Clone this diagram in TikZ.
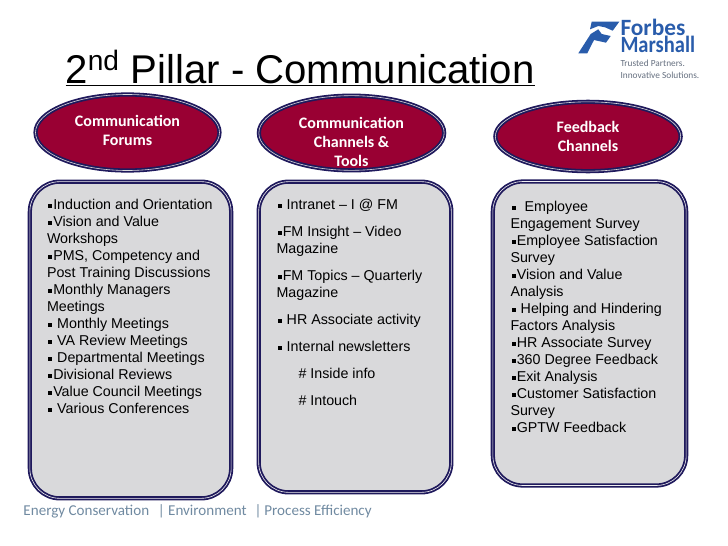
\documentclass[tikz,border=0pt]{standalone}
\usepackage{fontspec}
\usepackage{graphicx}
\setmainfont{Liberation Sans}
\newfontfamily\calibri{Carlito}
\usetikzlibrary{shapes.geometric}
\definecolor{pillarred}{rgb}{0.60,0.00,0.20}
\definecolor{pillarnavy}{rgb}{0.12,0.10,0.36}
\definecolor{pillargrey}{rgb}{0.85,0.85,0.86}
\definecolor{logoblue}{rgb}{0.16,0.36,0.67}
\definecolor{logogrey}{rgb}{0.40,0.44,0.50}
\definecolor{footgrey}{rgb}{0.44,0.54,0.63}
\newcommand{\bul}{\hspace{0.8pt}\rule[0.15em]{3.1pt}{3.1pt}\hspace{0.8pt}}
\tikzset{every picture/.style={line width=0.75pt}}
\tikzset{
  pillaroval/.style={ellipse,draw=pillarnavy,double=pillargrey,double distance=0.45pt,line width=1.35pt,fill=pillarred,inner sep=0pt},
  pillarbox/.style={rectangle,rounded corners=22.5pt,draw=pillarnavy,double=pillargrey!40,double distance=0.45pt,line width=1.35pt,fill=pillargrey,inner sep=0pt},
  ovaltext/.style={align=center,text=white,inner sep=0.75pt,font=\calibri\bfseries\fontsize{12}{14.3}\selectfont},
  bodytext/.style={anchor=north west,align=left,inner sep=0.75pt,font=\fontsize{10.7}{12.75}\selectfont}
}

\begin{document}
\begin{tikzpicture}[x=0.75pt,y=0.75pt,yscale=-1,xscale=1]
\useasboundingbox (0,0) rectangle (728,546);

\draw (65,83) node (title) [anchor=base west,inner sep=0pt,font=\fontsize{30.1}{34}\selectfont] {\underline{2\textsuperscript{nd} Pillar - Communication}};

% logo
\fill [logoblue] (591.7,21.7) -- (619.3,21.7) -- (612.7,30.7) -- (605,27.3) -- (598.3,26) -- (590,29.3) -- cycle ;
\fill [logoblue] (578.3,53.3) -- (587.3,53.3) -- (594,40) -- (606,42.7) -- (610.7,36) -- (601.7,34) -- (598.3,29.3) -- (590.7,34) -- cycle ;
\draw (620,35) node (forbes) [anchor=base west,inner sep=0pt,text=logoblue,font=\calibri\bfseries\fontsize{17.5}{18}\selectfont] {Forbes};
\draw (620,52.7) node (marshall) [anchor=base west,inner sep=0pt,text=logoblue,font=\calibri\bfseries\fontsize{17.5}{18}\selectfont] {\scalebox{0.88}[1]{Marshall}};
\draw (620,66.7) node (trusted) [anchor=base west,inner sep=0pt,text=logogrey,font=\calibri\fontsize{7}{8}\selectfont] {Trusted Partners.};
\draw (620,78) node (innovative) [anchor=base west,inner sep=0pt,text=logogrey,font=\calibri\fontsize{7}{8}\selectfont] {Innovative Solutions.};

% ovals
\draw (127.5,132.5) node (forums) [pillaroval,minimum width=138pt,minimum height=57pt] {};
\draw (351.5,133) node (channels) [pillaroval,minimum width=139pt,minimum height=56pt] {};
\draw (588,136.5) node (feedback) [pillaroval,minimum width=139pt,minimum height=52pt] {};
\draw (127.5,130.5) node (forumstext) [ovaltext] {Communication\\Forums};
\draw (351.5,141.5) node (channelstext) [ovaltext] {Communication\\Channels \&\\Tools};
\draw (588,136.5) node (feedbacktext) [ovaltext] {Feedback\\Channels};

% boxes
\draw (130.5,340) node (forumsbox) [pillarbox,minimum width=151pt,minimum height=237.5pt] {};
\draw (355,337) node (channelsbox) [pillarbox,minimum width=144.5pt,minimum height=233pt] {};
\draw (589.5,333.5) node (feedbackbox) [pillarbox,minimum width=145pt,minimum height=228pt] {};

\draw (45.5,198) node (forumslist) [bodytext] {\bul Induction and Orientation\\\bul Vision and Value\\Workshops\\\bul PMS, Competency and\\Post Training Discussions\\\bul Monthly Managers\\Meetings\\\bul\ Monthly Meetings\\\bul\ VA Review Meetings\\\bul\ Departmental Meetings\\\bul Divisional Reviews\\\bul Value Council Meetings\\\bul\ Various Conferences};
\draw (275,198) node (channelslist) [bodytext] {\bul\ Intranet -- I @ FM\\[7.5pt]\bul FM Insight -- Video\\Magazine\\[7.5pt]\bul FM Topics -- Quarterly\\Magazine\\[7.5pt]\bul\ HR Associate activity\\[7.5pt]\bul\ Internal newsletters\\[7.5pt]\hspace{16.5pt}\# Inside info\\[7.5pt]\hspace{16.5pt}\# Intouch};
\draw (509,200) node (feedbacklist) [bodytext] {\bul\ \ Employee\\Engagement Survey\\\bul Employee Satisfaction\\Survey\\\bul Vision and Value\\Analysis\\\bul\ Helping and Hindering\\Factors Analysis\\\bul HR Associate Survey\\\bul 360 Degree Feedback\\\bul Exit Analysis\\\bul Customer Satisfaction\\Survey\\\bul GPTW Feedback};

% footer
\draw (23,515) node (footer) [anchor=base west,inner sep=0pt,text=footgrey,font=\calibri\fontsize{11.3}{14}\selectfont] {Energy Conservation\hspace{6.5pt}|\hspace{2.5pt}Environment\hspace{6pt}|\hspace{2.1pt}Process Efficiency};

\end{tikzpicture}
\end{document}
